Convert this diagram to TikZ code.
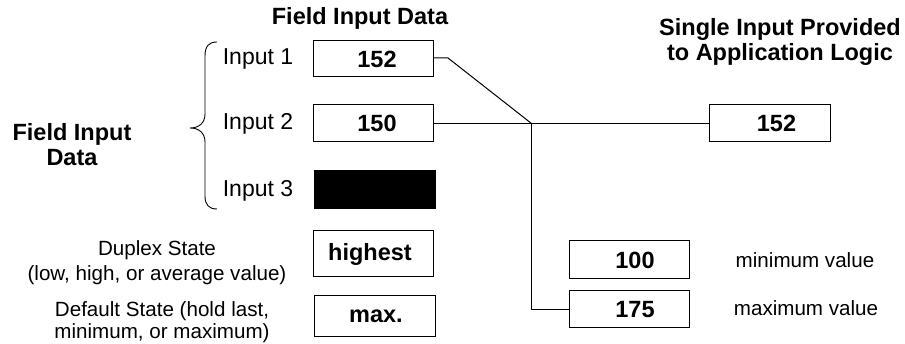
\documentclass[tikz,border=0pt]{standalone}
\usepackage{fontspec}
\setmainfont{Liberation Sans}
\begin{document}
\begin{tikzpicture}[x=1pt,y=-1pt,
  title/.style={font=\fontsize{23.5}{25}\selectfont\bfseries, align=center, inner sep=0pt},
  inlabel/.style={font=\fontsize{23}{25}\selectfont, inner sep=0pt},
  small/.style={font=\fontsize{20.6}{25}\selectfont, align=center, inner sep=0pt},
  valbox/.style={draw, line width=1pt, minimum width=120pt, inner sep=0pt,
    font=\fontsize{23.5}{25}\selectfont\bfseries},
  wire/.style={line width=1pt}]
\useasboundingbox (0,0) rectangle (905,344);
% titles
\node[title] (t1) at (360,18) {Field Input Data};
\node[title] (t2) at (780,42) {Single Input Provided\\to Application Logic};
\node[title] (t3) at (72,145) {Field Input\\Data};
% brace
\draw[line width=0.9pt] (217,42) .. controls (209,42) and (205,46) .. (205,56)
  -- (205,114) .. controls (205,123) and (199,128) .. (190,128)
  .. controls (199,128) and (205,133) .. (205,142)
  -- (205,196) .. controls (205,205) and (209,209) .. (217,209);
% input labels
\node[inlabel] (l1) at (258,59) {Input 1};
\node[inlabel] (l2) at (258,124) {Input 2};
\node[inlabel] (l3) at (258,191) {Input 3};
% input boxes
\node[valbox, minimum height=36pt] (in1) at (373,59) {\hspace{8pt}152};
\node[valbox, minimum height=37pt] (in2) at (373,123.5) {\hspace{8pt}150};
\node[draw, fill=black, line width=1pt, minimum width=121pt, minimum height=38pt] (in3) at (374.5,190) {};
\node[valbox, minimum height=46pt] (hi) at (373,254) {\hspace{-6pt}highest};
\node[valbox, minimum width=121pt, minimum height=41pt] (mx) at (374.5,316.5) {\hspace{3pt}max.};
% state labels
\node[small] (dup) at (157,262.5) {Duplex State\\(low, high, or average value)};
\node[small, font=\fontsize{20.6}{21.5}\selectfont] (def) at (162,322) {Default State (hold last,\\minimum, or maximum)};
% output and limit boxes
\node[valbox, minimum width=121pt, minimum height=37pt] (out) at (769.5,123.5) {\hspace{14pt}152};
\node[valbox, minimum height=38pt] (b100) at (629,260) {\hspace{12pt}100};
\node[valbox, minimum height=37pt] (b175) at (629,309.5) {\hspace{12pt}175};
\node[small] (minl) at (805,260) {minimum value};
\node[small] (maxl) at (806,308) {maximum value};
% wires
\coordinate (j) at (531.5,123.5);
\coordinate (k) at (448,58);
\draw[wire] (in1.east |- k) -- (k) -- (j);
\draw[wire] (in2.east) -- (j) -- (out.west);
\draw[wire] (j) |- (b175.west);
\end{tikzpicture}
\end{document}
